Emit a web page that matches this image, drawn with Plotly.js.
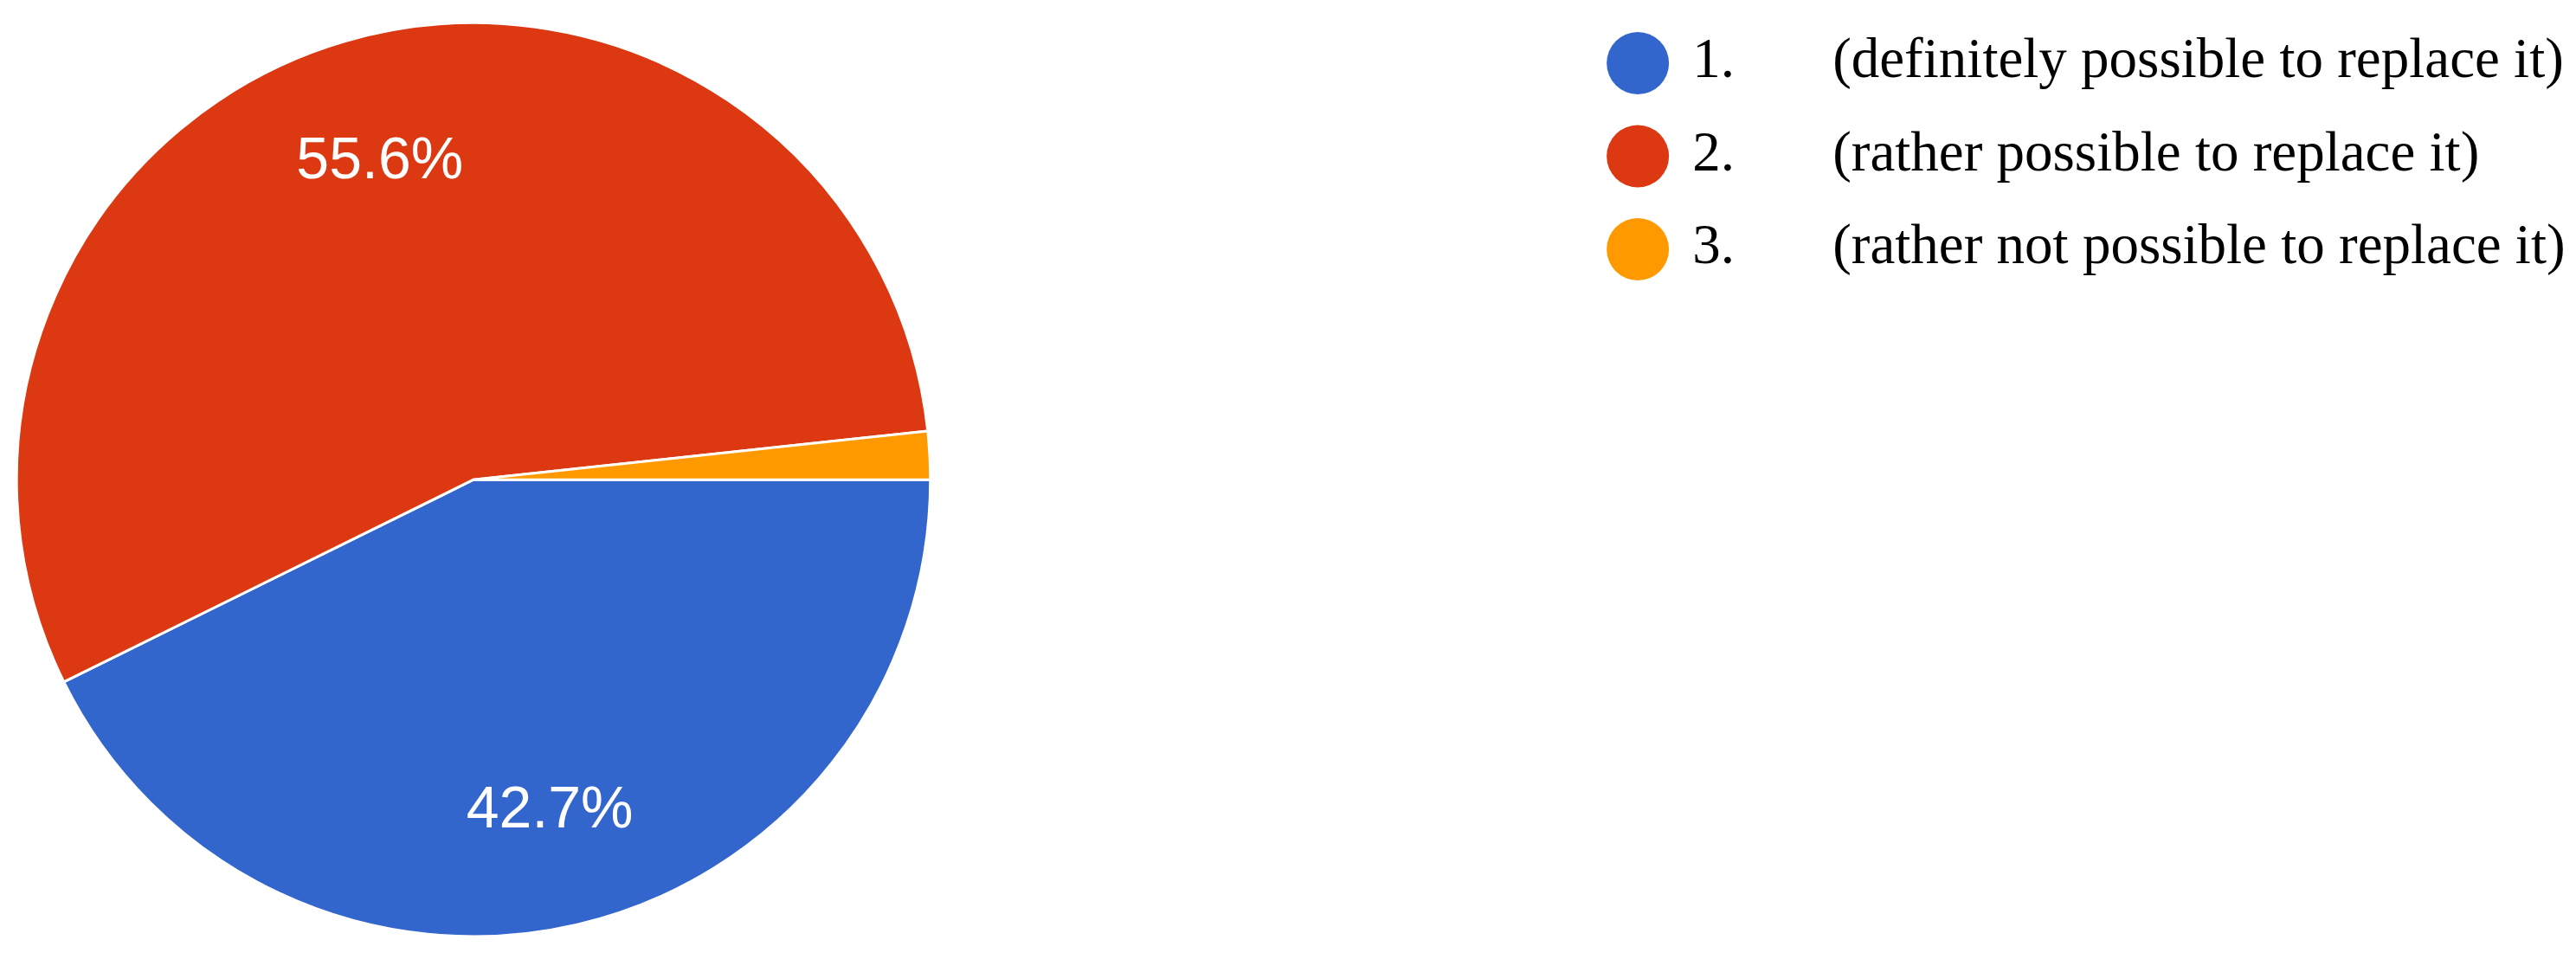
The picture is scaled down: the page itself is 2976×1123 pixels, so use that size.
<!DOCTYPE html>
<html>
<head>
<meta charset="utf-8">
<script src="https://cdn.plot.ly/plotly-3.0.1.min.js"></script>
<style>
  html, body { margin: 0; padding: 0; background: #fff; }
  #chart { width: 2976px; height: 1123px; }
</style>
</head>
<body>
<div id="chart"></div>
<script>
// answers and their shares (percent)
var numbers = ["1.", "2.", "3."];
var answers = [
    "(definitely possible to replace it)",
    "(rather possible to replace it)",
    "(rather not possible to replace it)"
];
var shares = [42.7, 55.6, 1.7];
var colors = ["#3366cc", "#dc3912", "#ff9900"];
var rows = [0, 1, 2];

var pieDomain = {x: [0.0064, 0.3612], y: [0.0365, 0.9765]};

// the slices
var pie = {
    type: "pie",
    values: shares,
    labels: answers,
    sort: false,
    direction: "clockwise",
    rotation: 90,
    domain: pieDomain,
    marker: {colors: colors, line: {color: "#ffffff", width: 3}},
    textinfo: "none",
    hoverinfo: "skip",
    showlegend: false
};

// same slices again, transparent, only to carry the labels further out
var pieLabels = {
    type: "pie",
    values: shares,
    labels: answers,
    sort: false,
    direction: "clockwise",
    rotation: 90,
    hole: 0.47,
    domain: pieDomain,
    marker: {colors: ["rgba(0,0,0,0)", "rgba(0,0,0,0)", "rgba(0,0,0,0)"], line: {width: 0}},
    texttemplate: ["%{percent:.1%}", "%{percent:.1%}", ""],
    textposition: "inside",
    insidetextorientation: "horizontal",
    textfont: {family: "Liberation Sans, Arial, sans-serif", size: 68, color: "#ffffff"},
    hoverinfo: "skip",
    showlegend: false
};

// legend drawn as a small scatter so the dots can be round
var dots = {
    type: "scatter",
    mode: "markers",
    x: [63.58, 63.58, 63.58],
    y: rows,
    marker: {color: colors, size: 72, line: {width: 0}},
    hoverinfo: "skip",
    showlegend: false
};
var nums = {
    type: "scatter",
    mode: "text",
    x: [65.7, 65.7, 65.7],
    y: rows,
    text: numbers,
    textposition: "middle right",
    textfont: {family: "Liberation Serif, Times New Roman, serif", size: 65, color: "#000"},
    hoverinfo: "skip",
    showlegend: false
};
var descs = {
    type: "scatter",
    mode: "text",
    x: [71.14, 71.14, 71.14],
    y: rows,
    text: answers,
    textposition: "middle right",
    textfont: {family: "Liberation Serif, Times New Roman, serif", size: 65, color: "#000"},
    hoverinfo: "skip",
    showlegend: false
};

var layout = {
    width: 2976,
    height: 1123,
    margin: {l: 0, r: 0, t: 0, b: 0},
    paper_bgcolor: "#ffffff",
    plot_bgcolor: "rgba(0,0,0,0)",
    showlegend: false,
    xaxis: {range: [0, 100], visible: false, fixedrange: true, domain: [0, 1]},
    yaxis: {range: [9.767, -0.679], visible: false, fixedrange: true, domain: [0, 1]}
};

Plotly.newPlot("chart", [dots, nums, descs, pie, pieLabels], layout, {staticPlot: true});
</script>
</body>
</html>
